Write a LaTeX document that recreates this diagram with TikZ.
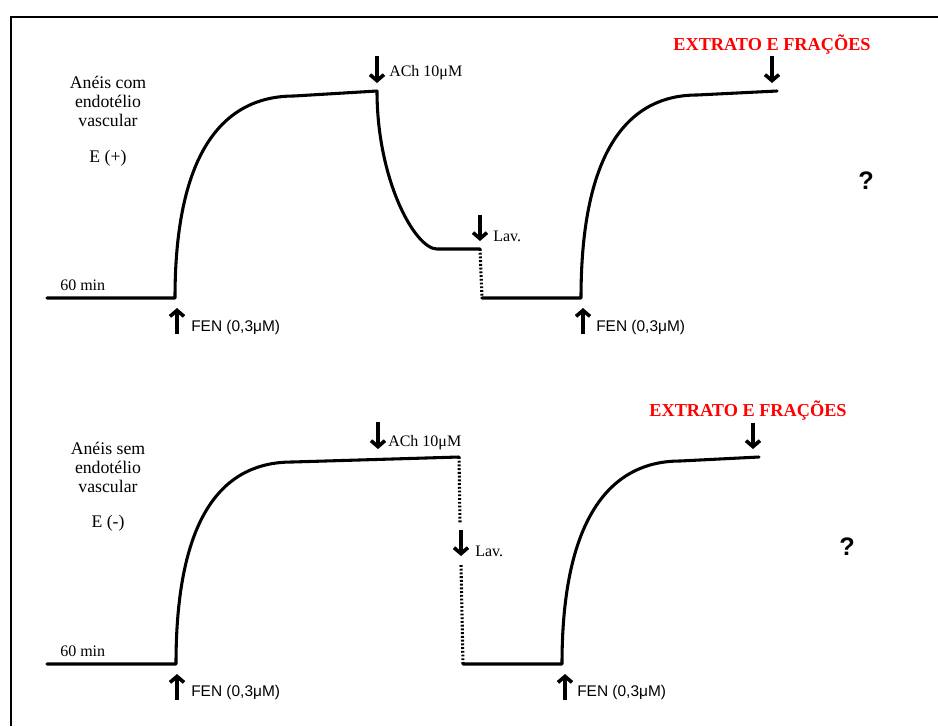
\documentclass[tikz,border=0pt]{standalone}
\usepackage{fontspec}
\setmainfont{Liberation Serif}
\newfontfamily\labsans{Liberation Sans}
\usetikzlibrary{arrows.meta}

\begin{document}
\begin{tikzpicture}[x=0.75pt,y=-0.75pt,
  frame/.style={line width=2.2pt},
  trace/.style={line width=2.3pt, line join=round, line cap=round},
  washout/.style={line width=2.3pt, dash pattern=on 1.4pt off 1.4pt},
  marker/.style={line width=2.7pt, -{Straight Barb[length=4.5pt,width=10.5pt]}},
  lbl/.style={inner sep=0pt, anchor=west, font=\fontsize{12}{14}\selectfont},
  fen/.style={inner sep=0pt, anchor=west, font=\labsans\fontsize{11.6}{14}\selectfont},
  group/.style={inner sep=0pt, align=center, font=\fontsize{13.3}{14.3}\selectfont},
  extract/.style={inner sep=0pt, text=red, font=\bfseries\fontsize{13.7}{15}\selectfont},
  query/.style={inner sep=0pt, font=\labsans\bfseries\fontsize{19}{21}\selectfont}]

\useasboundingbox (0,0) rectangle (938,726);

% outer frame (runs off the right and bottom edges)
\coordinate (fb) at (11,726);
\coordinate (fc) at (11,17);
\coordinate (fr) at (938,17);
\draw[frame] (fb) -- (fc) -- (fr);

% ---------------- rings with endothelium ----------------
\node[group] (gu) at (108,101) {Anéis com\\endotélio\\vascular};
\node[group] (eu) at (108,158) {E (+)};
\node[lbl] (tu) at (60,285) {60 min};

\coordinate (u0) at (47,298);
\coordinate (u1) at (175,298);
\coordinate (u2) at (294,96);
\coordinate (u3) at (377,91);
\coordinate (u4) at (437,249);
\coordinate (u5) at (480,249);
\coordinate (u6) at (482,298);
\coordinate (u7) at (581,298);
\coordinate (u8) at (697,95);
\coordinate (u9) at (777,91);

\draw[trace] (u0) -- (u1) .. controls +(0,-150) and +(-68,0) .. (u2) -- (u3)
  .. controls +(0,89) and +(-22,0) .. (u4) -- (u5);
\draw[washout] (u5) -- (u6);
\draw[trace] (u6) -- (u7) .. controls +(0,-150) and +(-67,0) .. (u8) -- (u9);

% additions
\coordinate (ua1) at (377,56);  \coordinate (ua2) at (377,83);
\draw[marker] (ua1) -- (ua2);
\node[lbl] (uach) at (389,73) {ACh 10μM};

\coordinate (ul1) at (480,215); \coordinate (ul2) at (480,241);
\draw[marker] (ul1) -- (ul2);
\node[lbl] (ulav) at (493,236) {Lav.};

\coordinate (ue1) at (772,56);  \coordinate (ue2) at (772,83);
\draw[marker] (ue1) -- (ue2);
\node[extract] (uext) at (772,45) {EXTRATO E FRAÇÕES};

\coordinate (uf1) at (177,334); \coordinate (uf2) at (177,308);
\draw[marker] (uf1) -- (uf2);
\node[fen] (ufen) at (191,327) {FEN (0,3μM)};

\coordinate (ug1) at (583,334); \coordinate (ug2) at (583,308);
\draw[marker] (ug1) -- (ug2);
\node[fen] (ugen) at (596,327) {FEN (0,3μM)};

\node[query] (uq) at (866,181) {?};

% ---------------- rings without endothelium ----------------
\node[group] (gl) at (108,467) {Anéis sem\\endotélio\\vascular};
\node[group] (el) at (108,523) {E (-)};
\node[lbl] (tl) at (60,651) {60 min};

\coordinate (l0) at (47,664);
\coordinate (l1) at (176,664);
\coordinate (l2) at (292,462);
\coordinate (l3) at (459,457);
\coordinate (la) at (460,523);
\coordinate (lb) at (461,565);
\coordinate (l4) at (463,664);
\coordinate (l5) at (562,664);
\coordinate (l6) at (680,461);
\coordinate (l7) at (759,457);

\draw[trace] (l0) -- (l1) .. controls +(0,-150) and +(-68,0) .. (l2) -- (l3);
\draw[washout] (l3) -- (la);
\draw[washout] (lb) -- (l4);
\draw[trace] (l4) -- (l5) .. controls +(0,-150) and +(-67,0) .. (l6) -- (l7);

% additions
\coordinate (la1) at (378,422);  \coordinate (la2) at (378,449);
\draw[marker] (la1) -- (la2);
\node[lbl] (lach) at (388,443) {ACh 10μM};

\coordinate (ll1) at (461,530); \coordinate (ll2) at (461,556);
\draw[marker] (ll1) -- (ll2);
\node[lbl] (llav) at (475,551) {Lav.};

\coordinate (le1) at (753,423);  \coordinate (le2) at (753,449);
\draw[marker] (le1) -- (le2);
\node[extract] (lext) at (748,411) {EXTRATO E FRAÇÕES};

\coordinate (lf1) at (177,700); \coordinate (lf2) at (177,674);
\draw[marker] (lf1) -- (lf2);
\node[fen] (lfen) at (191,692) {FEN (0,3μM)};

\coordinate (lg1) at (565,700); \coordinate (lg2) at (565,674);
\draw[marker] (lg1) -- (lg2);
\node[fen] (lgen) at (577,692) {FEN (0,3μM)};

\node[query] (lq) at (847,547) {?};

\end{tikzpicture}
\end{document}
